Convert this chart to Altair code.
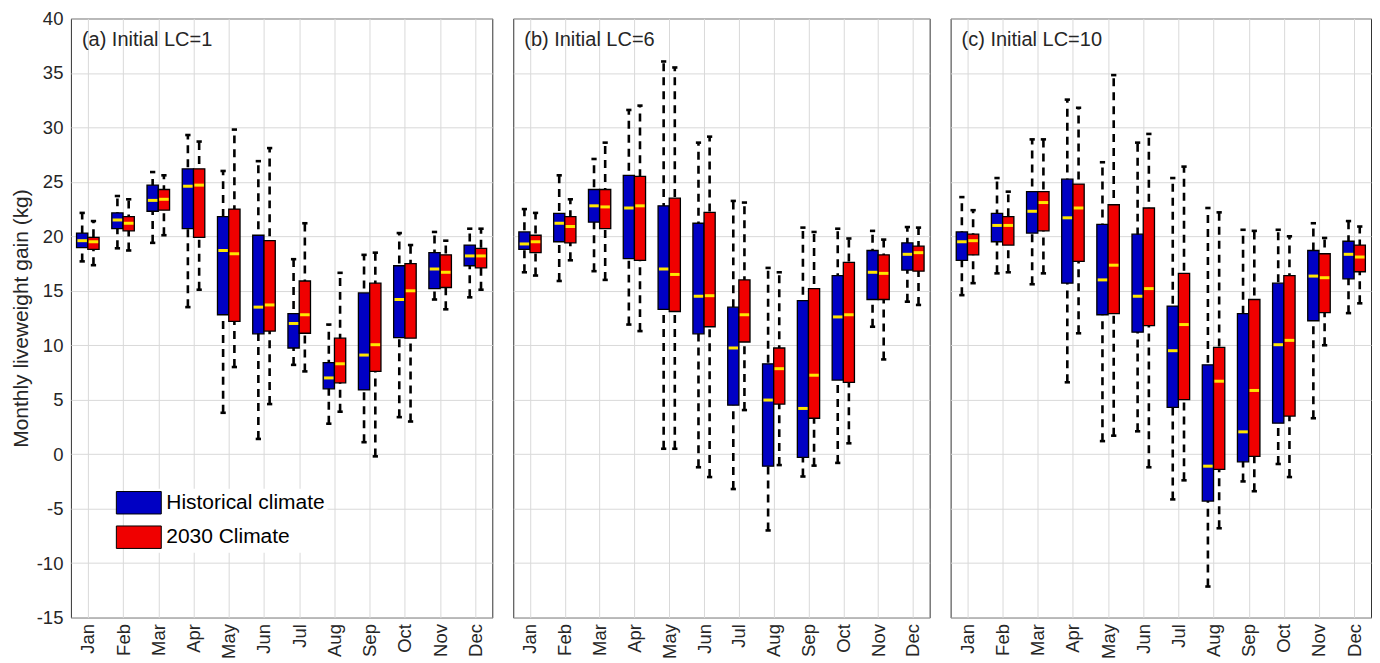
import altair as alt
import pandas as pd

months = ["Jan", "Feb", "Mar", "Apr", "May", "Jun", "Jul", "Aug", "Sep", "Oct", "Nov", "Dec"]
series_names = ["Historical climate", "2030 Climate"]
panel_titles = ["(a) Initial LC=1", "(b) Initial LC=6", "(c) Initial LC=10"]

# Panel (a)
a_hist_lo = [17.7, 18.9, 19.4, 13.5, 3.8, 1.4, 8.2, 2.8, 1.1, 3.4, 14.2, 14.4]
a_hist_q1 = [18.96, 20.7, 22.3, 20.7, 12.8, 11.05, 9.75, 6.0, 5.9, 10.7, 15.2, 17.3]
a_hist_med = [19.6, 21.5, 23.3, 24.6, 18.7, 13.5, 12.0, 7.0, 9.1, 14.2, 17.0, 18.2]
a_hist_q3 = [20.3, 22.15, 24.7, 26.2, 21.8, 20.1, 12.9, 8.4, 14.8, 17.3, 18.5, 19.2]
a_hist_hi = [22.15, 23.7, 25.9, 29.3, 26.0, 26.9, 17.9, 11.9, 18.3, 20.3, 20.4, 20.7]
a_fut_lo = [17.35, 18.7, 20.1, 15.1, 8.0, 4.6, 7.6, 3.9, -0.2, 3.0, 13.3, 15.1]
a_fut_q1 = [18.8, 20.5, 22.4, 19.9, 12.2, 11.3, 11.1, 6.55, 7.6, 10.65, 15.3, 17.1]
a_fut_med = [19.5, 21.2, 23.4, 24.7, 18.4, 13.7, 12.8, 8.3, 10.05, 15.0, 16.7, 18.2]
a_fut_q3 = [19.9, 21.8, 24.3, 26.2, 22.5, 19.6, 15.9, 10.65, 15.7, 17.5, 18.3, 18.9]
a_fut_hi = [21.4, 23.4, 25.6, 28.7, 29.8, 28.1, 21.2, 16.65, 18.5, 19.2, 19.6, 20.7]

# Panel (b)
b_hist_lo = [16.7, 15.9, 16.8, 11.9, 0.5, -1.2, -3.2, -7.0, -2.05, -0.8, 11.7, 14.0]
b_hist_q1 = [18.8, 19.5, 21.3, 17.95, 13.3, 11.05, 4.5, -1.1, -0.3, 6.8, 14.2, 16.9]
b_hist_med = [19.3, 21.2, 22.8, 22.6, 17.0, 14.5, 9.75, 4.97, 4.2, 12.6, 16.7, 18.35]
b_hist_q3 = [20.4, 22.1, 24.3, 25.6, 22.8, 21.2, 13.5, 8.3, 14.1, 16.4, 18.7, 19.4]
b_hist_hi = [22.5, 25.6, 27.1, 31.6, 36.05, 28.6, 23.25, 17.1, 20.8, 20.7, 20.5, 20.85]
b_fut_lo = [16.4, 17.8, 16.0, 11.3, 0.5, -2.1, 4.05, -1.0, -1.05, 1.0, 8.7, 13.7]
b_fut_q1 = [18.5, 19.4, 20.7, 17.8, 13.1, 11.7, 10.3, 4.6, 3.3, 6.6, 14.2, 16.8]
b_fut_med = [19.5, 20.9, 22.7, 22.8, 16.5, 14.55, 12.8, 7.85, 7.25, 12.8, 16.6, 18.5]
b_fut_q3 = [20.1, 21.8, 24.3, 25.5, 23.5, 22.2, 16.0, 9.75, 15.2, 17.6, 18.3, 19.1]
b_fut_hi = [22.15, 23.4, 28.6, 32.0, 35.5, 29.15, 23.1, 16.7, 20.4, 19.8, 19.7, 20.8]

# Panel (c)
c_hist_lo = [14.6, 16.6, 15.6, 6.6, 1.2, 2.1, -4.15, -12.15, -2.5, -0.9, 3.3, 12.95]
c_hist_q1 = [17.8, 19.5, 20.3, 15.7, 12.8, 11.2, 4.3, -4.3, -0.7, 2.85, 12.25, 16.1]
c_hist_med = [19.5, 21.0, 22.3, 21.7, 16.0, 14.5, 9.5, -1.1, 2.05, 10.05, 16.35, 18.35]
c_hist_q3 = [20.4, 22.1, 24.1, 25.25, 21.1, 20.2, 13.6, 8.2, 12.9, 15.7, 18.7, 19.55]
c_hist_hi = [23.6, 25.35, 28.9, 32.55, 26.8, 28.6, 25.35, 22.6, 20.6, 20.6, 21.2, 21.4]
c_fut_lo = [15.7, 16.7, 16.6, 11.1, 1.7, -1.2, -2.4, -6.8, -3.4, -2.1, 10.0, 13.85]
c_fut_q1 = [18.3, 19.2, 20.5, 17.7, 12.9, 11.8, 5.0, -1.4, -0.2, 3.5, 13.0, 16.75]
c_fut_med = [19.6, 21.0, 23.1, 22.6, 17.35, 15.2, 11.9, 6.7, 5.85, 10.45, 16.2, 18.1]
c_fut_q3 = [20.2, 21.8, 24.1, 24.8, 22.9, 22.6, 16.6, 9.8, 14.2, 16.4, 18.4, 19.2]
c_fut_hi = [22.4, 24.1, 28.9, 31.8, 34.8, 29.4, 26.4, 22.2, 20.5, 20.0, 19.85, 20.9]

panels = [
    (a_hist_lo, a_hist_q1, a_hist_med, a_hist_q3, a_hist_hi,
     a_fut_lo, a_fut_q1, a_fut_med, a_fut_q3, a_fut_hi),
    (b_hist_lo, b_hist_q1, b_hist_med, b_hist_q3, b_hist_hi,
     b_fut_lo, b_fut_q1, b_fut_med, b_fut_q3, b_fut_hi),
    (c_hist_lo, c_hist_q1, c_hist_med, c_hist_q3, c_hist_hi,
     c_fut_lo, c_fut_q1, c_fut_med, c_fut_q3, c_fut_hi),
]

BLUE = "#0000C4"
RED = "#F00000"
YELLOW = "#FFE600"
FONT = "Liberation Sans"
BOX_W = 0.32
CAP_HALF = 0.075
MONTH_EXPR = "[" + ",".join("'%s'" % m for m in months) + "][datum.value - 1]"

widths = [422, 417, 421]
HEIGHT = 600


def panel_df(p):
    rows = []
    for side, off in ((0, -1), (1, 1)):
        lo, q1, md, q3, hi = p[side * 5:side * 5 + 5]
        for i in range(12):
            rows.append({"m": i + 1, "series": series_names[side], "side": off,
                         "lo": lo[i], "q1": q1[i], "med": md[i], "q3": q3[i], "hi": hi[i]})
    return pd.DataFrame(rows)


def make_panel(idx):
    df = panel_df(panels[idx])
    first = idx == 0
    xaxis = alt.Axis(values=list(range(1, 13)), labelExpr=MONTH_EXPR, labelAngle=270,
                     grid=True, ticks=False, domain=False, labelFontSize=18.5,
                     labelPadding=6, title=None, labelFlush=False)
    if first:
        yaxis = alt.Axis(values=list(range(-15, 45, 5)), title="Monthly liveweight gain (kg)",
                         labelExpr="'' + datum.value",
                         titleFontSize=21, titleFontWeight="normal", labelFontSize=18.5,
                         ticks=False, domain=False, labelPadding=8, titlePadding=5, grid=True)
    else:
        yaxis = alt.Axis(values=list(range(-15, 45, 5)), title=None, labels=False,
                         ticks=False, domain=False, grid=True)
    xs = alt.Scale(domain=[0.52, 12.48], nice=False, zero=False)
    ys = alt.Scale(domain=[-15, 40], nice=False, zero=False)

    def X(f):
        return alt.X(f + ":Q", scale=xs, axis=xaxis)

    def Y(f):
        return alt.Y(f + ":Q", scale=ys, axis=yaxis)

    base = alt.Chart(df).transform_calculate(
        xl=f"datum.m + (datum.side < 0 ? -{BOX_W} : 0)"
    ).transform_calculate(
        xr=f"datum.xl + {BOX_W}", xc=f"datum.xl + {BOX_W / 2}"
    )

    whisk = base.mark_rule(color="black", strokeWidth=2.6, strokeDash=[8, 6]).encode(
        x=X("xc"), y=Y("lo"), y2="hi")
    caps = base.transform_fold(["lo", "hi"], as_=["which", "v"]).transform_calculate(
        c1=f"datum.xc - {CAP_HALF}", c2=f"datum.xc + {CAP_HALF}"
    ).mark_rule(color="black", strokeWidth=2.6).encode(x=X("c1"), x2="c2", y=Y("v"))

    if first:
        legend = alt.Legend(orient="none", legendX=54, legendY=471, title=None,
                            symbolType="M-2,-1H2V1H-2Z", symbolSize=506,
                            symbolStrokeColor="black", symbolStrokeWidth=1, symbolOpacity=1,
                            labelFontSize=21, labelFont=FONT, labelColor="black",
                            labelOffset=15.5, rowPadding=6.5, fillColor="white",
                            padding=2, labelLimit=400)
    else:
        legend = None
    box = base.mark_rect(stroke="black", strokeWidth=1.3, opacity=1).encode(
        x=X("xl"), x2="xr", y=Y("q1"), y2="q3",
        fill=alt.Fill("series:N", scale=alt.Scale(domain=series_names, range=[BLUE, RED]),
                      legend=legend))
    med = base.transform_calculate(
        m1="datum.xl + 0.025", m2="datum.xr - 0.025"
    ).mark_rule(color=YELLOW, strokeWidth=3).encode(x=X("m1"), x2="m2", y=Y("med"))

    label = alt.Chart(pd.DataFrame({"t": [panel_titles[idx]]})).mark_text(
        align="left", baseline="alphabetic", fontSize=20, font=FONT, color="#262626"
    ).encode(text="t:N", x=alt.value(11), y=alt.value(28))

    return alt.layer(whisk, caps, box, med, label).properties(width=widths[idx], height=HEIGHT)


chart = alt.hconcat(make_panel(0), make_panel(1), make_panel(2), spacing=19).resolve_scale(
    fill="independent").resolve_legend(fill="independent").properties(
    padding={"left": 1, "top": 0, "right": 0, "bottom": 0}
).configure(font=FONT).configure_view(stroke="#333333", strokeWidth=1).configure_axis(
    gridColor="#d9d9d9", gridWidth=1, labelColor="#262626", titleColor="#262626",
    labelFont=FONT, titleFont=FONT)

chart.save("out.html", embed_options={"renderer": "svg", "actions": False})
